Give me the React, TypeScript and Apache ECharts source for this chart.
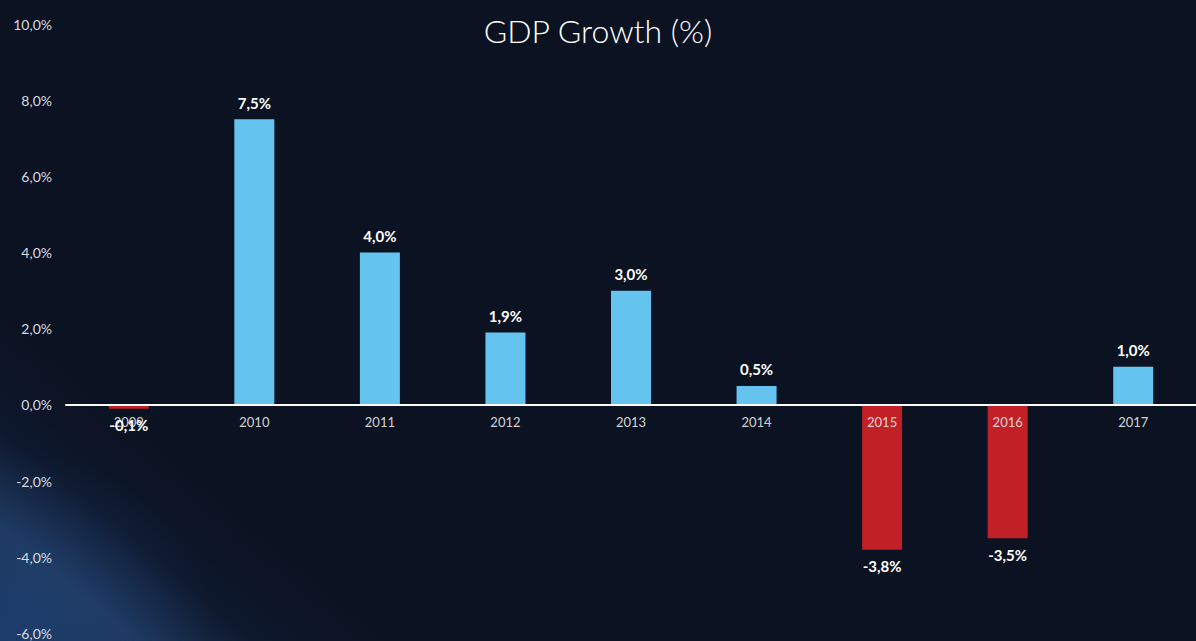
import React, { useEffect, useRef } from "react";
import * as echarts from "echarts";

const years = ["2009", "2010", "2011", "2012", "2013", "2014", "2015", "2016", "2017"];
const growth = [-0.1, 7.5, 4.0, 1.9, 3.0, 0.5, -3.8, -3.5, 1.0];
const yTicks = { min: -6, max: 10, interval: 2 };

const BLUE = "#65c4ef";
const RED = "#c22027";
const FONT = "Lato, 'DejaVu Sans', sans-serif";

const fmt = (v: number) => v.toFixed(1).replace(".", ",") + "%";

const GRID_TOP = 24;
const GRID_BOTTOM = 7.5;
const H = 641;

export default function App() {
  const ref = useRef<HTMLDivElement>(null);
  useEffect(() => {
    if (!ref.current) return;
    const chart = echarts.init(ref.current, undefined, { renderer: "svg" });
    const plotH = H - GRID_TOP - GRID_BOTTOM;
    const zeroOffset = -plotH * (0 - yTicks.min) / (yTicks.max - yTicks.min);
    chart.setOption({
      animation: false,
      backgroundColor: "transparent",
      title: {
        text: "GDP Growth (%)",
        left: "center",
        top: 9,
        textStyle: { color: "#ffffff", fontSize: 32, fontWeight: 300, fontFamily: FONT },
      },
      grid: {
        left: 66,
        right: 0,
        top: GRID_TOP,
        bottom: GRID_BOTTOM,
        containLabel: false,
        outerBoundsMode: "none",
      },
      xAxis: {
        type: "category",
        data: years,
        z: 5,
        offset: zeroOffset,
        axisLine: { onZero: false, lineStyle: { color: "#ffffff", width: 2 } },
        axisTick: { show: false },
        axisLabel: { color: "rgba(235,235,235,0.9)", fontSize: 13, margin: 11, fontFamily: FONT },
        splitLine: { show: false },
      },
      yAxis: {
        type: "value",
        min: yTicks.min,
        max: yTicks.max,
        interval: yTicks.interval,
        axisLine: { show: false },
        axisTick: { show: false },
        splitLine: { show: false },
        axisLabel: { color: "#d8dbe0", fontSize: 14, margin: 14, fontFamily: FONT, formatter: (v: number) => fmt(v) },
      },
      series: [
        {
          type: "bar",
          barWidth: 40,
          z: 2,
          data: growth.map((v) => ({
            value: v,
            itemStyle: { color: v < 0 ? RED : BLUE },
            label: { position: v < 0 ? "bottom" : "top" },
          })),
          label: {
            show: true,
            distance: 9,
            color: "#ffffff",
            fontWeight: "bold",
            fontSize: 15,
            fontFamily: FONT,
            formatter: (p: any) => fmt(p.value),
          },
        },
      ],
    });
    return () => chart.dispose();
  }, []);
  return (
    <div
      style={{
        position: "fixed",
        left: 0,
        top: 0,
        width: 1196,
        height: 641,
        background:
          "linear-gradient(40deg, rgba(40,85,160,0.35) 0%, rgba(60,120,195,0.32) 7%, rgba(30,60,120,0.15) 13%, rgba(11,18,33,0) 20%), radial-gradient(ellipse 18% 30% at 0% 100%, rgba(50,110,190,0.3), rgba(11,18,33,0)), #0b1221",
      }}
    >
      <div ref={ref} style={{ width: 1196, height: 641 }} />
    </div>
  );
}
